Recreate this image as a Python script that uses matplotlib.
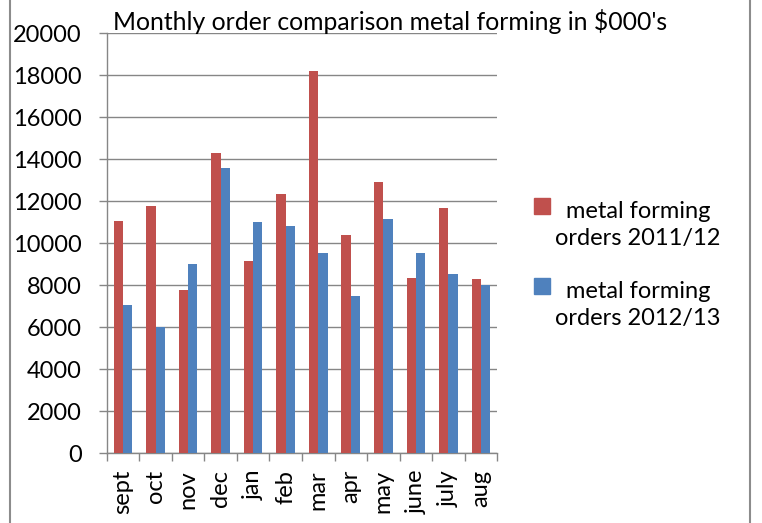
import matplotlib
matplotlib.use("Agg")
import matplotlib.pyplot as plt
from matplotlib.patches import Rectangle
import numpy as np

months = ["sept", "oct", "nov", "dec", "jan", "feb", "mar", "apr", "may", "june", "july", "aug"]
orders_2011_12 = [11080, 11780, 7760, 14300, 9150, 12350, 18200, 10400, 12900, 8330, 11670, 8290]
orders_2012_13 = [7050, 6000, 9000, 13600, 11000, 10800, 9520, 7500, 11150, 9520, 8540, 8000]
series_labels = ["metal forming\norders 2011/12", "metal forming\norders 2012/13"]
title = "Monthly order comparison metal forming in $000's"

red = "#C0504D"
blue = "#4F81BD"
grey = "#868686"

plt.rcParams["font.family"] = ["Lato", "DejaVu Sans"]
fs = 17

fig = plt.figure(figsize=(7.62, 5.23), dpi=100)
ax = fig.add_axes([0.140, 0.1333, 0.5126, 0.8031])

x = np.arange(len(months))
w = 0.286
ax.bar(x - w / 2, orders_2011_12, w, color=red, zorder=3)
ax.bar(x + w / 2, orders_2012_13, w, color=blue, zorder=3)

ax.set_xlim(-0.5, len(months) - 0.5)
ax.set_ylim(0, 20000)
ax.set_yticks(np.arange(0, 20001, 2000))
ax.yaxis.grid(True, color=grey, linewidth=1.0, zorder=0)
ax.set_axisbelow(True)

ax.set_xticks(x)
ax.set_xticklabels(months, rotation=90, fontsize=fs)
ax.set_xticks(np.arange(-0.5, len(months)), minor=True)
ax.tick_params(axis="x", which="major", length=0, pad=12)
ax.tick_params(axis="x", which="minor", length=5.8, color=grey, width=1.0)
ax.tick_params(axis="y", length=5.8, color=grey, width=1.0, pad=12, labelsize=fs)

for s in ["top", "right"]:
    ax.spines[s].set_visible(False)
for s in ["left", "bottom"]:
    ax.spines[s].set_color(grey)
    ax.spines[s].set_linewidth(1.0)

fig.text(113 / 762, 1 - 30 / 523, title, fontsize=17.8, ha="left", va="baseline")

# legend, drawn by hand so the square sits beside the first line of each label
W, H = 762, 523
for i, (lab, col) in enumerate(zip(series_labels, [red, blue])):
    top = 198 + 80 * i
    fig.patches.append(Rectangle((534 / W, 1 - (top + 16) / H), 16 / W, 16 / H,
                                 transform=fig.transFigure, color=col))
    # baseline of the last line
    fig.text(638 / W, 1 - (top + 47) / H, lab, fontsize=fs, ha="center", va="baseline",
             multialignment="center", linespacing=1.38)

fig.patches.append(Rectangle((10 / W, -0.02), 740 / W, 1.04, transform=fig.transFigure,
                             fill=False, edgecolor="#8c8c8c", linewidth=1.5))

fig.savefig("out.png", dpi=100)
